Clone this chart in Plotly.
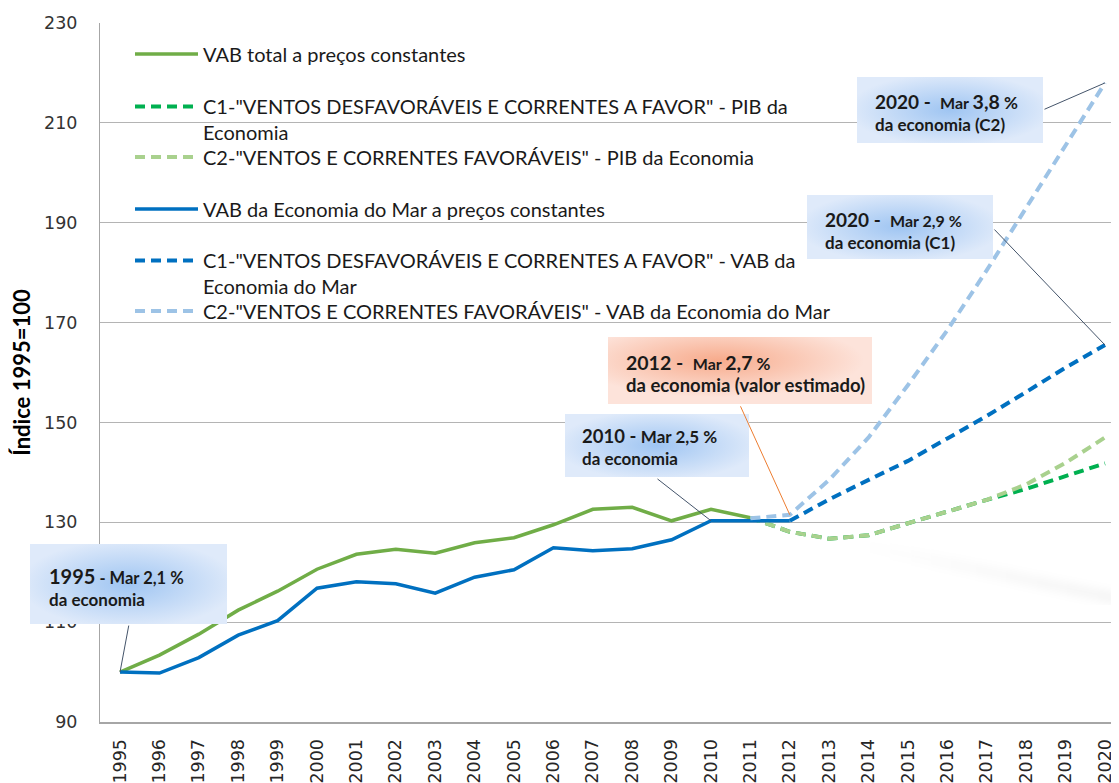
import base64
import plotly.graph_objects as go

# ---------------- data ----------------
years_total = list(range(1995, 2012))
vab_total = [100.0, 103.4, 107.6, 112.4, 116.2, 120.6, 123.6, 124.6, 123.8, 125.9,
             126.9, 129.5, 132.6, 133.0, 130.3, 132.6, 130.9]
years_pib_proj = list(range(2011, 2021))
pib_c1 = [130.9, 128.1, 126.7, 127.4, 129.8, 132.2, 134.5, 136.7, 139.2, 141.8]
pib_c2 = [130.9, 128.1, 126.7, 127.4, 129.8, 132.2, 134.5, 137.6, 141.9, 147.0]
years_mar = list(range(1995, 2013))
vab_mar = [100.0, 99.8, 102.9, 107.4, 110.3, 116.8, 118.1, 117.7, 115.8, 119.0,
           120.5, 124.9, 124.3, 124.7, 126.5, 130.3, 130.3, 130.3]
years_mar_c1 = list(range(2012, 2021))
mar_c1 = [130.3, 134.6, 138.5, 142.3, 146.8, 151.3, 156.1, 161.0, 165.5]
years_mar_c2 = list(range(2011, 2021))
mar_c2 = [130.8, 131.5, 138.5, 147.0, 157.5, 168.5, 180.5, 193.0, 205.5, 218.0]

tick_years = list(range(1995, 2021))
tick_labels = [str(y) for y in tick_years]
y_ticks = [90, 110, 130, 150, 170, 190, 210, 230]

names = [
    "VAB total a preços constantes",
    'C1-"VENTOS DESFAVORÁVEIS E CORRENTES A FAVOR" - PIB da<br>Economia',
    'C2-"VENTOS E CORRENTES FAVORÁVEIS" - PIB da Economia',
    "VAB da Economia do Mar a preços constantes",
    'C1-"VENTOS DESFAVORÁVEIS E CORRENTES A FAVOR" - VAB da<br>Economia do Mar',
    'C2-"VENTOS E CORRENTES FAVORÁVEIS" - VAB da Economia do Mar',
]

# ---------------- geometry (page has an 8px body margin) ----------------
OFF = 8
W, H = 1119 - OFF, 783 - OFF
PLOT_L, PLOT_T, PLOT_B = 100, 23, 722          # absolute screen pixels
ML = PLOT_L - OFF
MT = PLOT_T - OFF
MB = H - (PLOT_B - OFF)
MR = 0
PW, PH = W - ML - MR, H - MT - MB


def px_x(px):
    return (px - PLOT_L) / PW


def px_y(py):
    return (PLOT_B - py) / PH


FONT = "Lato"
TXT = "#1a1a1a"

fig = go.Figure()

series = [
    (years_total, vab_total, "#70ad47", "solid", 3.5, "legend"),
    (years_pib_proj, pib_c1, "#00b050", "10px,6px", 4, "legend2"),
    (years_pib_proj, pib_c2, "#a9d18e", "10px,6px", 4, "legend3"),
    (years_mar, vab_mar, "#0070c0", "solid", 3.5, "legend4"),
    (years_mar_c1, mar_c1, "#0070c0", "10px,6px", 4, "legend5"),
    (years_mar_c2, mar_c2, "#9dc3e6", "10px,6px", 4, "legend6"),
]
for (xs, ys, col, dash, w, lg), nm in zip(series, names):
    fig.add_trace(go.Scatter(x=xs, y=ys, mode="lines", name=nm, legend=lg,
                             line=dict(color=col, width=w, dash=dash),
                             hoverinfo="skip"))

# legends (one per entry, positioned like the original)
leg_centres = [54, 119.5, 157, 209, 273.5, 311]
leg_common = dict(bgcolor="rgba(0,0,0,0)", borderwidth=0, itemwidth=63,
                  font=dict(family=FONT, size=20, color=TXT),
                  xanchor="left", yanchor="middle", valign="top")
legend_layout = {}
for i, cy in enumerate(leg_centres):
    key = "legend" if i == 0 else f"legend{i + 1}"
    legend_layout[key] = dict(x=px_x(130), y=px_y(cy), **leg_common)


# ---------------- gradient boxes ----------------
def grad_svg(c_in, c_out, cx="50%", cy="50%"):
    svg = (f"<svg xmlns='http://www.w3.org/2000/svg' width='200' height='80' "
           f"viewBox='0 0 200 80' preserveAspectRatio='none'>"
           f"<defs><radialGradient id='g' cx='{cx}' cy='{cy}' r='55%'>"
           f"<stop offset='0' stop-color='{c_in}'/><stop offset='1' stop-color='{c_out}'/>"
           f"</radialGradient></defs><rect x='0' y='0' width='200' height='80' fill='url(#g)'/></svg>")
    return "data:image/svg+xml;base64," + base64.b64encode(svg.encode()).decode()


BLUE = grad_svg("#9fc5f2", "#dfeafa")
ORANGE = grad_svg("#f7ab8c", "#fde3da", cx="42%", cy="35%")

boxes = [  # left, top, right, bottom, image (absolute pixels)
    (30, 544, 227, 624, BLUE),
    (565, 414, 749, 477, BLUE),
    (608, 337, 872, 404, ORANGE),
    (807, 195, 993, 259, BLUE),
    (857, 77, 1043, 143, BLUE),
]
images = []
for l, t, r, b, src in boxes:
    images.append(dict(source=src, xref="paper", yref="paper", x=px_x(l), y=px_y(t),
                       sizex=(r - l) / PW, sizey=(b - t) / PH, xanchor="left",
                       yanchor="top", sizing="stretch", layer="above"))

# faint shadow under the projections
shadow_svg = ("<svg xmlns='http://www.w3.org/2000/svg' width='270' height='80' viewBox='0 0 270 80'>"
              "<defs><linearGradient id='s' x1='0' y1='0' x2='1' y2='0'>"
              "<stop offset='0' stop-color='#000' stop-opacity='0'/>"
              "<stop offset='0.4' stop-color='#000' stop-opacity='0.02'/>"
              "<stop offset='1' stop-color='#000' stop-opacity='0.04'/></linearGradient>"
              "<filter id='f'><feGaussianBlur stdDeviation='4'/></filter></defs>"
              "<path d='M10,12 L270,66' stroke='url(#s)' stroke-width='12' fill='none' filter='url(#f)'/></svg>")
images.append(dict(source="data:image/svg+xml;base64," + base64.b64encode(shadow_svg.encode()).decode(),
                   xref="paper", yref="paper", x=px_x(850), y=px_y(533), sizex=269 / PW,
                   sizey=80 / PH, xanchor="left", yanchor="top", sizing="stretch", layer="below"))


# ---------------- annotation texts ----------------
def s(txt, size):
    return f"<span style='font-size:{size}px'>{txt}</span>"


texts = [
    (47, 586.5, "<b>" + s("1995", 20) + s(" - Mar 2,1 %", 16.5) + "<br>" + s("da economia", 17) + "</b>"),
    (580, 447, "<b>" + s("2010 - ", 18.5) + s("Mar 2,5 %", 17) + "<br>" + s("da economia", 17) + "</b>"),
    (624, 373.5, "<b>" + s("2012 -  ", 19.5) + s("Mar ", 16) + s("2,7", 19.5) + s(" %", 17) + "<br>"
     + s("da economia (valor estimado)", 18.5) + "</b>"),
    (823, 230, "<b>" + s("2020 -  ", 19) + s("Mar 2,9 %", 16) + "<br>" + s("da economia (C1)", 17) + "</b>"),
    (873, 112.5, "<b>" + s("2020 -  ", 19) + s("Mar ", 16) + s("3,8", 19.5) + s(" %", 17) + "<br>"
     + s("da economia (C2)", 17) + "</b>"),
]
annotations = []
for x0, yc, t in texts:
    annotations.append(dict(x=px_x(x0), y=px_y(yc), xref="paper", yref="paper", text=t,
                            showarrow=False, xanchor="left", yanchor="middle", align="left",
                            font=dict(family=FONT, size=17, color=TXT)))

# connectors: head on the data point, tail at the box (pixel offsets)
connectors = [
    (1995, vab_total[0], 9, -48, "#44546a"),
    (2010, vab_mar[15], -55, -43, "#44546a"),
    (2012, mar_c2[1], -50, -110, "#ed7d31"),
    (2020, mar_c1[-1], -112, -117, "#44546a"),
    (2020, mar_c2[-1], -62, 27, "#44546a"),
]
for x, y, ax, ay, col in connectors:
    annotations.append(dict(x=x, y=y, xref="x", yref="y", text="", showarrow=True,
                            arrowhead=0, arrowwidth=1, arrowcolor=col, ax=ax, ay=ay,
                            standoff=0, startstandoff=0))

fig.update_layout(
    width=W, height=H,
    margin=dict(l=ML, r=MR, t=MT, b=MB, autoexpand=False),
    paper_bgcolor="white", plot_bgcolor="white",
    showlegend=True,
    images=images,
    annotations=annotations,
    **legend_layout,
)
fig.update_xaxes(range=[1994.492, 2020.355], tickvals=tick_years, ticktext=tick_labels,
                 tickangle=-90, showgrid=False, showline=True, linecolor="#a6a6a6",
                 linewidth=2, ticks="", ticklabelstandoff=8, zeroline=False,
                 tickfont=dict(family="DejaVu Sans", size=17.5, color="#262626"))
fig.update_yaxes(range=[90, 230], tickvals=y_ticks, showgrid=True, gridcolor="#b4b4b4",
                 gridwidth=1, showline=True, linecolor="#a6a6a6", linewidth=1, ticks="",
                 ticklabelstandoff=18, zeroline=False,
                 tickfont=dict(family="DejaVu Sans", size=17.5, color="#333333"),
                 title=dict(text="<b>Índice 1995=100</b>", standoff=10,
                            font=dict(family=FONT, size=22, color="#000000")))

fig.write_html("out.html")
